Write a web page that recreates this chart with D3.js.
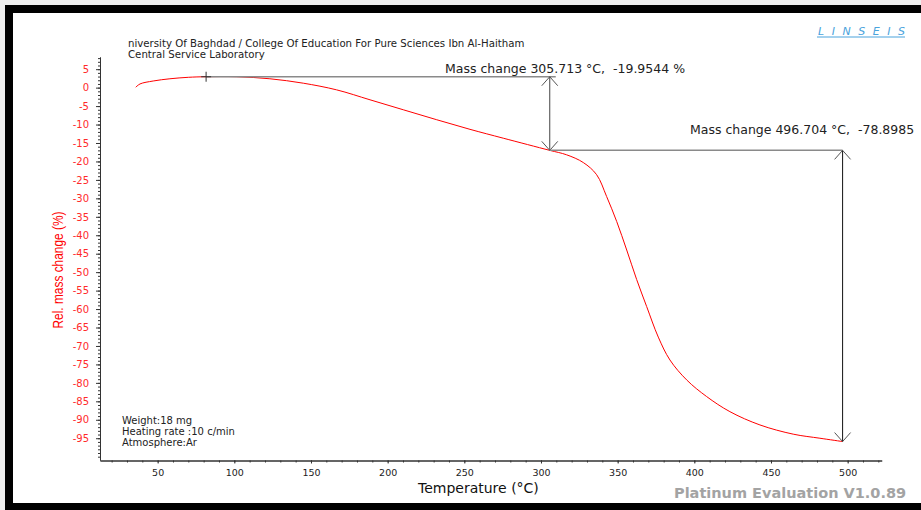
<!DOCTYPE html>
<html>
<head>
<meta charset="utf-8">
<script src="https://cdn.jsdelivr.net/npm/d3@7"></script>
<style>
  html, body { margin: 0; padding: 0; background: #eeeeee; }
  svg { display: block; font-family: "DejaVu Sans", Verdana, sans-serif; }
  text { white-space: pre; }
</style>
</head>
<body>
<svg id="tga" width="921" height="510"></svg>
<script>
// TGA curve: temperature (°C) and relative mass change (%)
const temps = [35.7, 38.5, 47.1, 58, 70, 81.6, 101.5, 123.2, 145, 166.7, 188.5, 210.2, 232, 253.7, 275.4, 305.7,
  316.7, 327.6, 336.3, 342.8, 349.4, 355.9, 362.4, 368.9, 376.5, 384.1, 395, 408, 423.2, 442.8, 464.5, 481.9, 496.7];
const mass = [0.1, 1.0, 1.8, 2.4, 2.8, 2.95, 2.95, 2.4, 1.2, -0.6, -3.3, -6.0, -8.7, -11.3, -13.7, -17.0,
  -18.2, -20.3, -23.6, -29.5, -36.3, -44.0, -52.0, -59.3, -67.6, -73.8, -79.2, -83.7, -87.8, -91.4, -93.9, -95.0, -95.9];

// mass change markers
const steps = [
  { from: [81.6, 2.95], to: [305.713, -17.0], label: "Mass change 305.713 °C,  -19.9544 %" },
  { from: [305.713, -17.0], to: [496.704, -95.9], label: "Mass change 496.704 °C,  -78.8985" }
];

const yMajor = d3.range(-95, 6, 5);
const yMinor = d3.range(-100, 9, 1);
const xMajor = d3.range(50, 501, 50);
const xMinor = d3.range(20, 521, 10);

const headerLines = ["niversity Of Baghdad / College Of Education For Pure Sciences Ibn Al-Haitham", "Central Service Laboratory"];
const infoLines = ["Weight:18 mg", "Heating rate :10 c/min", "Atmosphere:Ar"];

const svg = d3.select("svg#tga");
const width = +svg.attr("width");
const height = +svg.attr("height");

// frame
svg.append("rect").attr("x", 5).attr("y", 5).attr("width", width - 5).attr("height", height - 5).attr("fill", "#000");
svg.append("rect").attr("x", 13).attr("y", 13).attr("width", width - 13).attr("height", 490).attr("fill", "#fff");

const x = d3.scaleLinear([12.4, 522.2], [100, 881.7]);
const y = d3.scaleLinear([-100.9, 8.3], [460, 57]);

// y axis
svg.append("g")
  .attr("transform", "translate(100,0)")
  .call(d3.axisLeft(y).tickValues(yMinor).tickSize(2).tickFormat("").tickSizeOuter(0))
  .call((g) => g.selectAll("line,path").attr("stroke", "#333"));
svg.append("g")
  .attr("transform", "translate(100,0)")
  .call(d3.axisLeft(y).tickValues(yMajor).tickSize(4).tickPadding(7).tickSizeOuter(0).tickFormat((d) => String(d)))
  .call((g) => g.select(".domain").attr("stroke", "#333"))
  .call((g) => g.selectAll("line").attr("stroke", "#333"))
  .call((g) => g.selectAll("text").attr("fill", "#ff2a2a").attr("font-size", 10).attr("font-family", "DejaVu Sans"));

// x axis
svg.append("g")
  .attr("transform", "translate(0,460.5)")
  .call(d3.axisBottom(x).tickValues(xMinor).tickSize(2).tickFormat("").tickSizeOuter(0))
  .call((g) => g.selectAll("line,path").attr("stroke", "#333"));
svg.append("g")
  .attr("transform", "translate(0,460.5)")
  .call(d3.axisBottom(x).tickValues(xMajor).tickSize(3).tickPadding(6).tickSizeOuter(0))
  .call((g) => g.select(".domain").attr("stroke", "#333"))
  .call((g) => g.selectAll("line").attr("stroke", "#333"))
  .call((g) => g.selectAll("text").attr("fill", "#222").attr("font-size", 9.5).attr("font-family", "DejaVu Sans"));

// axis titles
svg.append("text")
  .attr("transform", "translate(63,270) rotate(-90)")
  .attr("text-anchor", "middle")
  .attr("font-family", "Liberation Sans")
  .attr("font-size", 15)
  .attr("textLength", 117)
  .attr("lengthAdjust", "spacingAndGlyphs")
  .attr("fill", "#ff0000")
  .text("Rel. mass change (%)");

svg.append("text")
  .attr("x", 418).attr("y", 493)
  .attr("font-size", 14)
  .attr("fill", "#111")
  .text("Temperature (°C)");

// header
svg.selectAll(".hdr")
  .data(headerLines)
  .join("text")
  .attr("class", "hdr")
  .attr("x", 128)
  .attr("y", (d, i) => 47 + i * 11)
  .attr("font-size", 10.2)
  .attr("fill", "#222")
  .text((d) => d);

svg.append("text")
  .attr("x", 818).attr("y", 35)
  .attr("font-size", 11)
  .attr("font-style", "italic")
  .attr("textLength", 87)
  .attr("lengthAdjust", "spacing")
  .attr("fill", "#4aa3dc")
  .text("LINSEIS");
svg.append("line")
  .attr("x1", 817).attr("x2", 905).attr("y1", 37).attr("y2", 37)
  .attr("stroke", "#4aa3dc").attr("stroke-width", 1);

// sample info
svg.selectAll(".info")
  .data(infoLines)
  .join("text")
  .attr("class", "info")
  .attr("x", 122)
  .attr("y", (d, i) => 424 + i * 11)
  .attr("font-size", 10)
  .attr("fill", "#222")
  .text((d) => d);

svg.append("text")
  .attr("x", 674).attr("y", 498)
  .attr("font-size", 14.5)
  .attr("font-weight", "bold")
  .attr("fill", "#a3a3a3")
  .text("Platinum Evaluation V1.0.89");

// curve
const line = d3.line()
  .x((d, i) => x(temps[i]))
  .y((d) => y(d))
  .curve(d3.curveCatmullRom.alpha(0.5));

svg.append("path")
  .attr("d", line(mass))
  .attr("fill", "none")
  .attr("stroke", "#ff0000")
  .attr("stroke-width", 1);

// mass change annotations
const arrow = (g, px, py, dir) => {
  g.append("path")
    .attr("d", `M${px - 8},${py - dir * 9}L${px},${py}L${px + 8},${py - dir * 9}`)
    .attr("fill", "none")
    .attr("stroke", "#555")
    .attr("stroke-width", 1);
};

const ann = svg.append("g");
steps.forEach((s, i) => {
  const x0 = x(s.from[0]), y0 = y(s.from[1]);
  const x1 = x(s.to[0]), y1 = y(s.to[1]);
  ann.append("line")
    .attr("x1", x0).attr("x2", x1 + (i === 0 ? 6 : 0))
    .attr("y1", y0).attr("y2", y0)
    .attr("stroke", "#8a8a8a").attr("stroke-width", 1.5);
  ann.append("line")
    .attr("x1", x1).attr("x2", x1)
    .attr("y1", y0).attr("y2", y1)
    .attr("stroke", i === 0 ? "#444" : "#111").attr("stroke-width", 1);
  arrow(ann, x1, y0, -1);
  arrow(ann, x1, y1, 1);
  ann.append("text")
    .attr("x", i === 0 ? 445 : 690)
    .attr("y", y0 - (i === 0 ? 4 : 16))
    .attr("font-size", 12.5)
    .attr("fill", "#222")
    .text(s.label);
});

// start marker
const sx = x(steps[0].from[0]), sy = y(steps[0].from[1]);
ann.append("path")
  .attr("d", `M${sx - 5},${sy}H${sx + 5}M${sx},${sy - 5}V${sy + 5}`)
  .attr("stroke", "#333").attr("stroke-width", 1);
</script>
</body>
</html>
